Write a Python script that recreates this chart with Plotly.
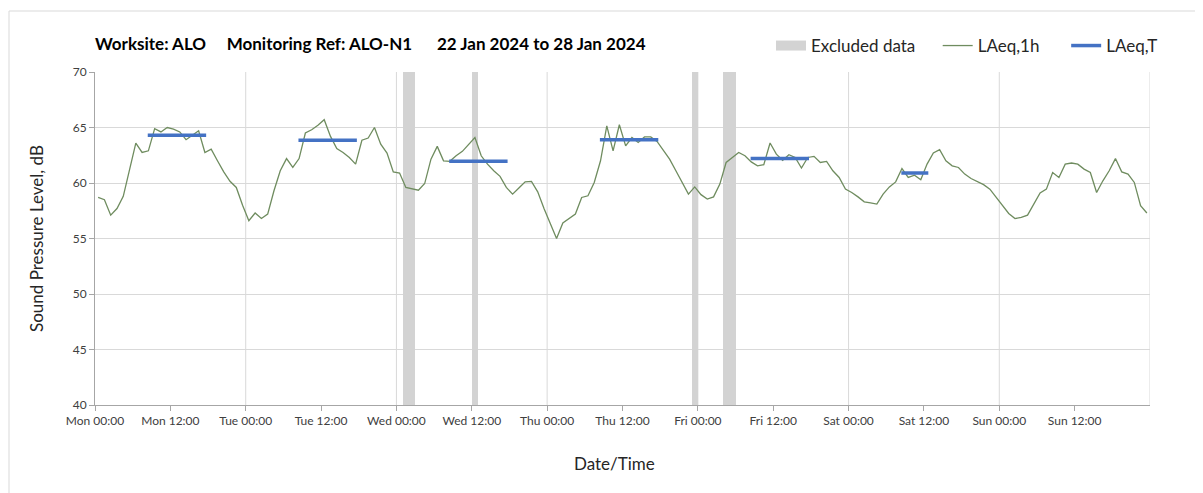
import pandas as pd
import plotly.graph_objects as go

# ---------------- data ----------------
start_time = "2024-01-22 00:30"
laeq_1h = [
    58.7, 58.5, 57.1, 57.7, 58.8, 61.2, 63.6, 62.75, 62.9, 64.9, 64.6, 65.0,
    64.85, 64.6, 63.9, 64.3, 64.7, 62.75, 63.05, 62.0, 61.0, 60.15, 59.6, 58.0,
    56.6, 57.3, 56.8, 57.2, 59.3, 61.1, 62.2, 61.4, 62.2, 64.5, 64.8, 65.2,
    65.7, 64.2, 63.1, 62.75, 62.3, 61.7, 63.85, 64.05, 65.0, 63.5, 62.7, 61.0,
    60.9, 59.6, 59.45, 59.35, 59.95, 62.15, 63.3, 62.0, 61.95, 62.45, 62.85, 63.5,
    64.1, 62.45, 61.7, 61.1, 60.6, 59.6, 59.0, 59.55, 60.1, 60.15, 59.2, 57.7,
    56.3, 55.0, 56.4, 56.8, 57.2, 58.7, 58.85, 60.05, 62.0, 65.15, 62.9, 65.25,
    63.35, 64.1, 63.65, 64.15, 64.15, 63.75, 63.0, 62.15, 61.1, 60.05, 59.0, 59.65,
    58.95, 58.55, 58.75, 59.9, 61.85, 62.3, 62.75, 62.45, 61.9, 61.55, 61.65, 63.6,
    62.6, 62.05, 62.55, 62.3, 61.35, 62.3, 62.4, 61.85, 61.95, 61.1, 60.5, 59.45,
    59.15, 58.75, 58.3, 58.2, 58.1, 59.0, 59.65, 60.1, 61.3, 60.5, 60.7, 60.3,
    61.7, 62.7, 63.0, 62.0, 61.55, 61.4, 60.8, 60.4, 60.15, 59.85, 59.45, 58.75,
    57.95, 57.25, 56.8, 56.9, 57.1, 58.05, 59.1, 59.45, 60.95, 60.5, 61.7, 61.8,
    61.7, 61.25, 60.95, 59.15, 60.2, 61.1, 62.2, 61.0, 60.8, 60.05, 57.95, 57.3,
]

laeq_t_start = ["2024-01-22 08:24", "2024-01-23 08:24", "2024-01-24 08:24",
                "2024-01-25 08:24", "2024-01-26 08:24", "2024-01-27 08:24"]
laeq_t_end = ["2024-01-22 17:42", "2024-01-23 17:42", "2024-01-24 17:42",
              "2024-01-25 17:42", "2024-01-26 17:42", "2024-01-27 12:42"]
laeq_t_level = [64.3, 63.85, 61.95, 63.9, 62.2, 60.9]

excl_start = ["2024-01-24 01:00", "2024-01-24 12:00", "2024-01-25 23:00", "2024-01-26 04:00"]
excl_end = ["2024-01-24 03:00", "2024-01-24 13:00", "2024-01-26 00:00", "2024-01-26 06:00"]

tick_positions = ["2024-01-22 00:00", "2024-01-22 12:00", "2024-01-23 00:00", "2024-01-23 12:00",
                  "2024-01-24 00:00", "2024-01-24 12:00", "2024-01-25 00:00", "2024-01-25 12:00",
                  "2024-01-26 00:00", "2024-01-26 12:00", "2024-01-27 00:00", "2024-01-27 12:00",
                  "2024-01-28 00:00", "2024-01-28 12:00"]
tick_labels = ["Mon 00:00", "Mon 12:00", "Tue 00:00", "Tue 12:00", "Wed 00:00", "Wed 12:00",
               "Thu 00:00", "Thu 12:00", "Fri 00:00", "Fri 12:00", "Sat 00:00", "Sat 12:00",
               "Sun 00:00", "Sun 12:00"]
day_grid = ["2024-01-23", "2024-01-24", "2024-01-25", "2024-01-26",
            "2024-01-27", "2024-01-28", "2024-01-29"]
x_range = ["2024-01-22 00:00", "2024-01-29 00:00"]

NB = "\u00a0"
title_text = ("Worksite: ALO" + NB * 5 + "Monitoring Ref: ALO-N1" + NB * 6 +
              "22 Jan 2024 to 28 Jan 2024")
x_title = "Date/Time"
y_title = "Sound Pressure Level, dB"

# ---------------- styles ----------------
FONT = "Lato, 'Open Sans', sans-serif"
GREEN = "#6f8c5f"
BLUE = "#4472c4"
GREY_BAND = "#d3d3d3"
GRID = "#d9d9d9"
AXIS = "#a6a6a6"
TXT = "#404040"

# plot area in page pixels (page has an 8px body margin)
PL, PT, PW, PH = 95, 72, 1055, 333
OFF = 8


def px(xp):
    return (xp - PL) / PW


def py(yp):
    return (PT + PH - yp) / PH


times = pd.date_range(start_time, periods=len(laeq_1h), freq="h")

fig = go.Figure()

# excluded data bands as bars
ex_s = pd.to_datetime(excl_start)
ex_e = pd.to_datetime(excl_end)
centers = ex_s + (ex_e - ex_s) / 2
widths = [(e - s).total_seconds() * 1000 for s, e in zip(ex_s, ex_e)]
fig.add_trace(go.Bar(x=centers, y=[30] * len(centers), base=40, width=widths,
                     marker=dict(color=GREY_BAND, line=dict(width=0)),
                     showlegend=False, hoverinfo="skip"))
# legend entry for excluded data
fig.add_trace(go.Scatter(x=[None], y=[None], mode="lines", name="Excluded data" + NB * 4,
                         line=dict(color=GREY_BAND, width=10)))

fig.add_trace(go.Scatter(x=times, y=laeq_1h, mode="lines", name="LAeq,1h" + NB * 5,
                         line=dict(color=GREEN, width=1.3)))

for i, (s, e, v) in enumerate(zip(laeq_t_start, laeq_t_end, laeq_t_level)):
    fig.add_trace(go.Scatter(x=[s, e], y=[v, v], mode="lines", name="LAeq,T",
                             legendgroup="laeqt", showlegend=(i == 0),
                             line=dict(color=BLUE, width=3.5)))

shapes = []
for d in day_grid:
    shapes.append(dict(type="line", xref="x", yref="paper", x0=d, x1=d, y0=0, y1=1,
                       line=dict(color=GRID, width=1), layer="below"))
# outer chart border (only top and left visible in the frame)
shapes.append(dict(type="rect", xref="paper", yref="paper",
                   x0=px(9), x1=px(1215), y0=py(505), y1=py(11),
                   line=dict(color="#d9d9d9", width=1), layer="below"))

fig.update_layout(
    width=1203 - OFF, height=493 - OFF,
    margin=dict(l=PL - OFF, r=1203 - PL - PW, t=PT - OFF, b=493 - PT - PH, autoexpand=False),
    paper_bgcolor="white", plot_bgcolor="white",
    font=dict(family=FONT, color=TXT, size=12),
    shapes=shapes,
    showlegend=True,
    legend=dict(orientation="h", x=px(771), y=py(46),
                xanchor="left", yanchor="middle", font=dict(size=17, color="#262626"),
                bgcolor="rgba(0,0,0,0)", traceorder="normal"),
    annotations=[
        dict(text="<b>" + title_text + "</b>", xref="paper", yref="paper",
             x=px(93), y=py(44), xanchor="left", yanchor="middle",
             showarrow=False, font=dict(size=17, color="#000000")),
        dict(text=x_title, xref="paper", yref="paper", x=px(614), y=py(463),
             xanchor="center", yanchor="middle", showarrow=False,
             font=dict(size=17, color="#262626")),
    ],
    bargap=0,
)

fig.update_xaxes(type="date", range=x_range, tickvals=tick_positions, ticktext=tick_labels,
                 showgrid=False, showline=True, linecolor=AXIS, linewidth=1,
                 ticks="outside", ticklen=5, tickcolor=AXIS, automargin=False,
                 tickfont=dict(size=12, color=TXT))
fig.update_yaxes(range=[40, 70], dtick=5, tick0=40, showgrid=True, gridcolor=GRID,
                 zeroline=False, showline=True, linecolor=AXIS, linewidth=1,
                 ticks="outside", ticklen=5, tickcolor=AXIS, automargin=False,
                 tickfont=dict(size=12, color=TXT),
                 title=dict(text=y_title, font=dict(size=17, color="#262626"), standoff=24))

fig.write_html("out.html")
